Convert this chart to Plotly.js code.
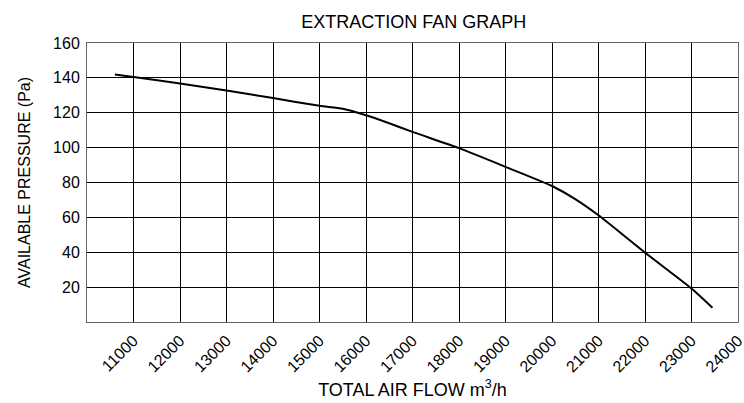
<!DOCTYPE html>
<html>
<head>
<meta charset="utf-8">
<script src="https://cdn.plot.ly/plotly-3.0.1.min.js"></script>
<style>html,body{margin:0;padding:0;background:#fff}#chart{width:744px;height:403px}</style>
</head>
<body>
<div id="chart"></div>
<script>
const airFlow = [10600, 11000, 12000, 13000, 14000, 15000, 15500, 16000, 16500, 17000, 18000, 19000, 20000, 20500, 21000, 22000, 23000, 23450];
const pressure = [142, 140.5, 136.8, 132.8, 128.4, 124, 122.3, 118.6, 114, 109, 99.7, 89, 78, 70.5, 61.2, 39.8, 19.2, 8.2];
const xTicks = [11000, 12000, 13000, 14000, 15000, 16000, 17000, 18000, 19000, 20000, 21000, 22000, 23000, 24000];
const yTicks = [20, 40, 60, 80, 100, 120, 140, 160];

const trace = {
  x: airFlow, y: pressure, type: 'scatter', mode: 'lines',
  line: {color: '#000', width: 2, shape: 'spline', smoothing: 0.6},
  hoverinfo: 'skip'
};
const layout = {
  width: 744, height: 403,
  margin: {l: 87, r: 6, t: 43, b: 81},
  paper_bgcolor: '#fff', plot_bgcolor: '#fff',
  font: {family: 'Liberation Sans, Arial, sans-serif', size: 16, color: '#000'},
  showlegend: false,
  title: {text: 'EXTRACTION FAN GRAPH', x: 0.556, xanchor: 'center', y: 0.945, yanchor: 'middle', font: {size: 18}},
  xaxis: {
    range: [10000, 24000], tickvals: xTicks, ticktext: xTicks.map(String), tickangle: -45,
    ticklabeloverflow: 'allow', ticklabelstandoff: 2,
    showgrid: true, gridcolor: '#000', gridwidth: 1,
    showline: true, linecolor: '#666', linewidth: 1, mirror: true,
    ticks: '', zeroline: false, fixedrange: true,
    title: {text: 'TOTAL AIR FLOW m<sup>3</sup>/h', standoff: 8, font: {size: 18}}
  },
  yaxis: {
    range: [0, 160], tickvals: yTicks, ticktext: yTicks.map(String),
    ticklabelstandoff: 3,
    showgrid: true, gridcolor: '#000', gridwidth: 1,
    showline: true, linecolor: '#666', linewidth: 1, mirror: true,
    ticks: '', zeroline: false, fixedrange: true,
    title: {text: 'AVAILABLE PRESSURE (Pa)', standoff: 18, font: {size: 16}}
  }
};
Plotly.newPlot('chart', [trace], layout, {staticPlot: true, displayModeBar: false});
</script>
</body>
</html>
